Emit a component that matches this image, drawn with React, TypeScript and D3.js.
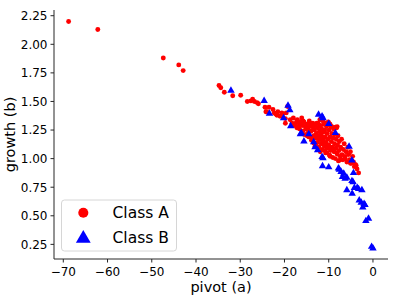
import React from "react";
import * as d3 from "d3";

// Class A (red circles): [pivot, growth]
const classA: [number, number][] = [
  [-68.8, 2.2], [-62.2, 2.13], [-47.4, 1.88], [-43.9, 1.82], [-42.9, 1.77],
  [-34.8, 1.64], [-34.4, 1.62], [-33.6, 1.58], [-31.7, 1.55], [-29.9, 1.555],
  [-28.4, 1.5], [-27.6, 1.505], [-27.2, 1.52], [-26.8, 1.5], [-26.2, 1.49],
  [-25.9, 1.48], [-24.4, 1.45], [-24.2, 1.41], [-24, 1.41], [-23.5, 1.45],
  [-22.6, 1.43], [-22.3, 1.4], [-22, 1.39], [-21.7, 1.38], [-21.5, 1.41],
  [-21, 1.37], [-20.7, 1.375], [-20.6, 1.4], [-20.4, 1.39], [-19.8, 1.35],
  [-19.6, 1.4], [-19.3, 1.456], [-19.8, 1.31], [-18.7, 1.34], [-18.3, 1.31],
  [-18, 1.355], [-17.2, 1.33], [-17.1, 1.34], [-17.2, 1.27], [-16.6, 1.32],
  [-16.4, 1.3], [-16.1, 1.355], [-15.8, 1.33], [-15.3, 1.28], [-15, 1.3],
  [-14.6, 1.25], [-14.2, 1.31], [-13.8, 1.29], [-13.5, 1.27],
  [-17.8, 1.29], [-17.4, 1.31], [-16.9, 1.28], [-16.6, 1.26], [-16, 1.29],
  [-15.6, 1.32], [-15, 1.27], [-14.7, 1.3], [-14.4, 1.33],
  [-15.9, 1.24], [-15.5, 1.21], [-15.2, 1.26], [-14.8, 1.22], [-14.5, 1.19],
  [-14.3, 1.28], [-14, 1.24], [-13.9, 1.16],
  [-13.6, 1.31], [-13.4, 1.2], [-13.2, 1.25], [-13, 1.29], [-12.9, 1.18],
  [-12.8, 1.22], [-12.6, 1.14], [-12.5, 1.27], [-12.4, 1.31], [-12.3, 1.2],
  [-12.2, 1.1], [-12.1, 1.24], [-12, 1.17],
  [-11.9, 1.29], [-11.8, 1.21], [-11.7, 1.13], [-11.6, 1.26], [-11.5, 1.19],
  [-11.4, 1.08], [-11.3, 1.23], [-11.2, 1.16], [-11.1, 1.3], [-11, 1.11],
  [-10.9, 1.25], [-10.8, 1.19], [-10.7, 1.05], [-10.6, 1.14], [-10.5, 1.28],
  [-10.4, 1.22], [-10.3, 1.09], [-10.2, 1.17], [-10.1, 1.32], [-10, 1.12],
  [-9.9, 1.25], [-9.8, 1.03], [-9.7, 1.19], [-9.6, 1.07], [-9.5, 1.28],
  [-9.4, 1.15], [-9.3, 1.22], [-9.2, 1.1], [-9.1, 1.01],
  [-9, 1.18], [-8.9, 1.26], [-8.8, 1.06], [-8.7, 1.13], [-8.6, 1.21],
  [-8.5, 1.0], [-8.4, 1.09], [-8.3, 1.17], [-8.2, 1.27], [-8.1, 1.04],
  [-8, 1.12], [-7.9, 1.2], [-7.8, 0.98], [-7.7, 1.07], [-7.6, 1.15],
  [-7.4, 1.02], [-7.3, 1.1], [-7.1, 1.17], [-7, 1.035], [-6.8, 0.99],
  [-6.7, 1.08], [-6.5, 1.13], [-6.3, 1.02], [-6.1, 1.06], [-5.9, 0.97],
  [-5.7, 1.1], [-5.5, 1.035], [-5.3, 0.99], [-5.1, 1.06],
  [-4.9, 0.96], [-4.75, 0.98], [-4.6, 1.02], [-4.4, 0.97], [-4.2, 0.93],
  [-4, 0.95], [-3.8, 0.94], [-3.6, 0.91], [-3.25, 0.875],
  [-13.4, 1.137], [-13.1, 1.107], [-12.3, 1.165], [-11.5, 1.137], [-10.8, 1.12],
  [-10.4, 1.05], [-10, 1.1], [-9.7, 1.02], [-9.3, 1.08], [-8.1, 1.05],
  [-7.4, 0.99], [-6.3, 1.0], [-5.1, 0.96],
  [-12.7, 1.31], [-11.9, 1.28], [-10.8, 1.31], [-10, 1.31], [-9.3, 1.28],
  [-8.5, 1.275], [-8.1, 1.28], [-9.7, 1.3], [-11.3, 1.33], [-12, 1.34],
  [-14.9, 1.2], [-13.7, 1.18], [-12.9, 1.12], [-11.9, 1.06], [-10.9, 1.07],
];

// Class B (blue triangles): [pivot, growth]
const classB: [number, number][] = [
  [-32.1, 1.6], [-24.6, 1.51], [-23.4, 1.4], [-20.2, 1.36], [-19.2, 1.47],
  [-18.8, 1.43], [-18.6, 1.29], [-16.2, 1.23], [-15.6, 1.157], [-13.4, 1.15],
  [-13.1, 1.107], [-12.5, 1.08], [-12.3, 1.39], [-11.5, 1.375], [-11.3, 1.36],
  [-11.5, 1.02], [-11.4, 0.94], [-11.3, 1.01], [-10, 1.31], [-10, 0.93],
  [-8.5, 1.23], [-7.8, 0.92], [-7.6, 0.91], [-7.2, 0.89], [-6.6, 0.875],
  [-6.9, 0.845], [-6.3, 0.83], [-5.9, 0.84], [-5.9, 0.73], [-5.4, 1.11],
  [-4.75, 0.99], [-4.75, 0.81], [-4.5, 0.8], [-4.4, 0.88], [-4.7, 0.7],
  [-4.2, 0.75], [-3.55, 0.75], [-3.25, 0.74], [-2.5, 0.73], [-3.1, 0.64],
  [-2.65, 0.62], [-2, 0.61], [-2.3, 0.58], [-1.8, 0.6], [-1.6, 0.46],
  [-1, 0.48], [-0.3, 0.235], [0, 0.22], [-14.5, 1.22], [-16.4, 1.22],
];

const xTicks = [-70, -60, -50, -40, -30, -20, -10, 0];
const yTicks = [0.25, 0.5, 0.75, 1.0, 1.25, 1.5, 1.75, 2.0, 2.25];
const legendLabels = ["Class A", "Class B"];

const W = 399;
const H = 295;
const font = "DejaVu Sans, sans-serif";
const axisColor = "#262626";

export default function App() {
  const x = d3.scaleLinear().domain([-72.1, 3.4]).range([54, 388]);
  const y = d3.scaleLinear().domain([0.122, 2.3]).range([259, 10]);
  const [x0, x1] = x.range();
  const [y0, y1] = y.range();
  const circle = d3.symbol().type(d3.symbolCircle).size(19)();
  const tri = d3.symbol().type(d3.symbolTriangle).size(24)();
  const bigCircle = d3.symbol().type(d3.symbolCircle).size(80)();
  const bigTri = d3.symbol().type(d3.symbolTriangle).size(95)();
  const fmtX = (v: number) => (v < 0 ? "\u2212" + Math.abs(v) : String(v));

  return (
    <svg
      width={W}
      height={H}
      style={{ position: "absolute", left: 0, top: 0, background: "#fff" }}
      fontFamily={font}
    >
      {classA.map((d, i) => (
        <path key={"a" + i} d={circle} transform={`translate(${x(d[0])},${y(d[1])})`} fill="#ff0000" />
      ))}
      {classB.map((d, i) => (
        <path key={"b" + i} d={tri} transform={`translate(${x(d[0])},${y(d[1]) + 0.6})`} fill="#0000ff" />
      ))}

      {/* spines */}
      <line x1={x0} x2={x0} y1={y0} y2={y1} stroke={axisColor} strokeWidth={1} />
      <line x1={x0} x2={x1} y1={y0} y2={y0} stroke={axisColor} strokeWidth={1} />

      {yTicks.map((t) => (
        <g key={"y" + t}>
          <line x1={x0 - 3.5} x2={x0} y1={y(t)} y2={y(t)} stroke={axisColor} strokeWidth={1} />
          <text x={x0 - 6.5} y={y(t)} dy="0.36em" textAnchor="end" fontSize={12}>
            {t.toFixed(2)}
          </text>
        </g>
      ))}
      {xTicks.map((t) => (
        <g key={"x" + t}>
          <line x1={x(t)} x2={x(t)} y1={y0} y2={y0 + 3.5} stroke={axisColor} strokeWidth={1} />
          <text x={x(t)} y={y0 + 17} textAnchor="middle" fontSize={12}>
            {fmtX(t)}
          </text>
        </g>
      ))}

      <text x={(x0 + x1) / 2} y={292} textAnchor="middle" fontSize={14.5}>
        pivot (a)
      </text>
      <text
        transform={`translate(15,${(y0 + y1) / 2}) rotate(-90)`}
        textAnchor="middle"
        fontSize={14.5}
      >
        growth (b)
      </text>

      {/* legend */}
      <rect x={61.5} y={200} width={115} height={51} rx={3} fill="#fff" fillOpacity={0.8} stroke="#ccc" strokeWidth={0.8} />
      <path d={bigCircle} transform="translate(83.3,212.7)" fill="#ff0000" />
      <path d={bigTri} transform="translate(83.3,238.5)" fill="#0000ff" />
      {legendLabels.map((l, i) => (
        <text key={l} x={112.5} y={212.7 + i * 24.6} dy="0.35em" fontSize={15.5}>
          {l}
        </text>
      ))}
    </svg>
  );
}
